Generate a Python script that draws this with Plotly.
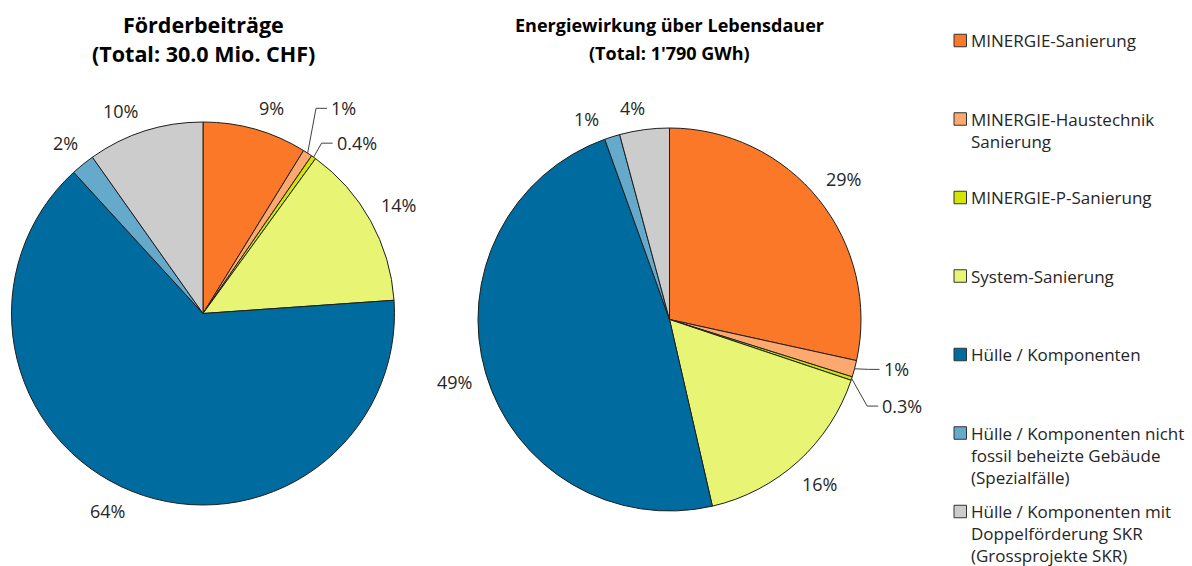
import math
import plotly.graph_objects as go

# ---------------- data ----------------
categories = [
    "MINERGIE-Sanierung",
    "MINERGIE-Haustechnik Sanierung",
    "MINERGIE-P-Sanierung",
    "System-Sanierung",
    "Hülle / Komponenten",
    "Hülle / Komponenten nicht fossil beheizte Gebäude (Spezialfälle)",
    "Hülle / Komponenten mit Doppelförderung SKR (Grossprojekte SKR)",
]
legend_labels = [
    "MINERGIE-Sanierung",
    "MINERGIE-Haustechnik<br>Sanierung",
    "MINERGIE-P-Sanierung",
    "System-Sanierung",
    "Hülle / Komponenten",
    "Hülle / Komponenten nicht<br>fossil beheizte Gebäude<br>(Spezialfälle)",
    "Hülle / Komponenten mit<br>Doppelförderung SKR<br>(Grossprojekte SKR)",
]
foerder_share = [8.8, 0.8, 0.4, 13.9, 64.3, 2.0, 9.8]
foerder_text = ["9%", "1%", "0.4%", "14%", "64%", "2%", "10%"]
energie_share = [28.5, 1.4, 0.3, 16.3, 48.2, 1.3, 4.2]
energie_text = ["29%", "1%", "0.3%", "16%", "49%", "1%", "4%"]
foerder_title = ["Förderbeiträge", "(Total: 30.0 Mio. CHF)"]
energie_title = ["Energiewirkung über Lebensdauer", "(Total: 1'790 GWh)"]

# ---------------- style / layout ----------------
W, H = 1192, 566
FONT = "Open Sans"
TXT = "#262626"
colors = ["#FA7828", "#FCA86E", "#D2E600", "#E8F574", "#006B9E", "#65A9CB", "#CCCCCC"]
EDGE = "#1e1e1e"
LBL_FS = 18
LEG_FS = 17
TITLE_LINE_Y = [25, 53.3]

pies = [
    dict(values=foerder_share, text=foerder_text, title=foerder_title, title_fs=21.5,
         cx=203, cy=313.5, r=191.5,
         nudge=[2.7, 0, 0, 0, 4, 0, -4.5],
         leaders={1: (8.4, -44.8), 2: (8.0, -14.0)}),
    dict(values=energie_share, text=energie_text, title=energie_title, title_fs=18,
         cx=669.5, cy=319.5, r=191.5,
         nudge=[0, 0, 0, 0, 0, -5, -2.4],
         leaders={1: (14.0, 0.6), 2: (15.5, 27.5)}),
]


def px(x):
    return x / W


def py(y):
    return 1 - y / H


fig = go.Figure()
annotations = []
shapes = []

for p in pies:
    cx, cy, r = p["cx"], p["cy"], p["r"]
    fig.add_trace(go.Pie(
        labels=categories,
        values=p["values"],
        sort=False,
        direction="clockwise",
        rotation=0,
        textinfo="none",
        hoverinfo="label+percent",
        showlegend=False,
        marker=dict(colors=colors, line=dict(color=EDGE, width=1)),
        domain=dict(x=[px(cx - r), px(cx + r)], y=[py(cy + r), py(cy - r)]),
    ))
    # title (two lines)
    for line, ly in zip(p["title"], TITLE_LINE_Y):
        annotations.append(dict(
            x=px(cx), y=py(ly), xref="paper", yref="paper",
            text=f"<b>{line}</b>", showarrow=False, xanchor="center", yanchor="middle",
            font=dict(family=FONT, size=p["title_fs"], color="#000000"),
        ))
    # slice labels derived from the data
    total = sum(p["values"])
    cum = 0.0
    for i, (v, t) in enumerate(zip(p["values"], p["text"])):
        mid = (cum + v / 2) / total * 360.0
        cum += v
        if i in p["leaders"]:
            th = math.radians(mid)
            ex, ey = cx + r * math.sin(th), cy - r * math.cos(th)
            dx, dy = p["leaders"][i]
            kx, ky = ex + dx, ey + dy
            lx, ly = kx + 11, ky
            shapes.append(dict(
                type="path", xref="paper", yref="paper",
                path=f"M {px(ex)},{py(ey)} L {px(kx)},{py(ky)} L {px(lx)},{py(ly)}",
                line=dict(color="#404040", width=1),
            ))
            annotations.append(dict(
                x=px(lx + 2), y=py(ly), xref="paper", yref="paper", text=t,
                showarrow=False, xanchor="left", yanchor="middle",
                font=dict(family=FONT, size=LBL_FS, color=TXT),
            ))
        else:
            th = math.radians(mid + p["nudge"][i])
            ndig = sum(ch.isdigit() for ch in t)
            wdt = (ndig * 0.57 + 0.83 + t.count(".") * 0.27) * LBL_FS
            a, b = wdt / 2, 0.5 * LBL_FS
            dist = r + 12.5 + a * abs(math.sin(th)) + b * abs(math.cos(th))
            lx, ly = cx + dist * math.sin(th), cy - dist * math.cos(th)
            annotations.append(dict(
                x=px(lx), y=py(ly), xref="paper", yref="paper", text=t,
                showarrow=False, xanchor="center", yanchor="middle",
                font=dict(family=FONT, size=LBL_FS, color=TXT),
            ))

# legend (one entry per category, fixed pitch as in the original)
LEG_X0 = 954
LEG_SW = 12.5
LEG_Y0 = 40.5
LEG_PITCH = 78.5
line_h = 1.3 * LEG_FS
for i, (lab, col) in enumerate(zip(legend_labels, colors)):
    yc = LEG_Y0 + i * LEG_PITCH
    shapes.append(dict(
        type="rect", xref="paper", yref="paper",
        x0=px(LEG_X0), x1=px(LEG_X0 + LEG_SW),
        y0=py(yc + LEG_SW / 2), y1=py(yc - LEG_SW / 2),
        fillcolor=col, line=dict(color="#333333", width=1),
    ))
    annotations.append(dict(
        x=px(LEG_X0 + LEG_SW + 3), y=py(yc - line_h / 2 - 1), xref="paper", yref="paper",
        text=lab, showarrow=False, xanchor="left", yanchor="top", align="left",
        font=dict(family=FONT, size=LEG_FS, color=TXT), borderpad=0,
    ))

fig.update_layout(
    width=W, height=H,
    margin=dict(l=0, r=0, t=0, b=0),
    paper_bgcolor="white", plot_bgcolor="white",
    showlegend=False,
    annotations=annotations,
    shapes=shapes,
    font=dict(family=FONT, color=TXT),
)

fig.write_html("out.html", config={"displayModeBar": False},
               post_script="document.body.style.margin='0';")
